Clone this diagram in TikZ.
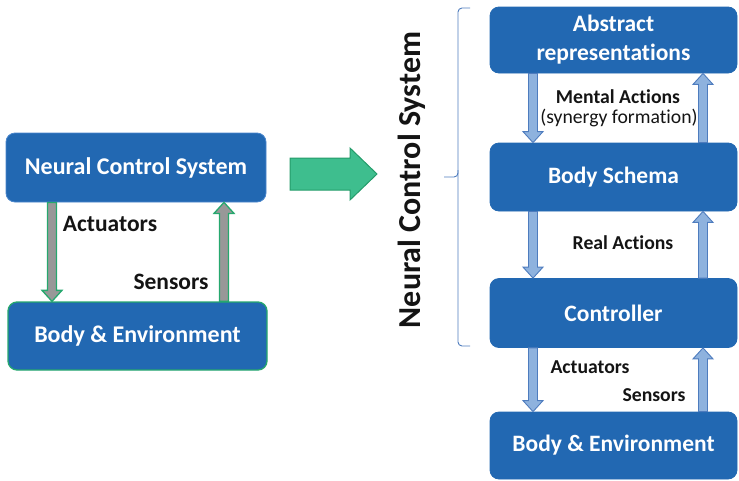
\documentclass[tikz,border=0pt]{standalone}
\usepackage{fontspec}
\setmainfont{Carlito}[Ligatures=NoCommon]
\usetikzlibrary{calc}

\definecolor{boxblue}{RGB}{34,104,178}
\definecolor{boxedge}{RGB}{74,134,204}
\definecolor{leafgreen}{RGB}{38,168,110}
\definecolor{arrowgray}{RGB}{152,152,152}
\definecolor{paleblue}{RGB}{142,178,222}
\definecolor{edgeblue}{RGB}{78,124,190}
\definecolor{bigfill}{RGB}{62,190,142}
\definecolor{bigedge}{RGB}{36,156,106}
\definecolor{inkblack}{RGB}{20,20,20}

% vertical block arrows: #1 style, #2 tail point, #3 tip point
\newcommand\downblock[3]{%
  \draw[#1] let \p1=(#2), \p2=(#3) in
    (\x1-4.5pt,\y1) -- (\x1-4.5pt,\y2+11pt) -- (\x1-10pt,\y2+11pt) -- (\x1,\y2)
    -- (\x1+10pt,\y2+11pt) -- (\x1+4.5pt,\y2+11pt) -- (\x1+4.5pt,\y1) -- cycle;}
\newcommand\upblock[3]{%
  \draw[#1] let \p1=(#2), \p2=(#3) in
    (\x1-4.5pt,\y1) -- (\x1-4.5pt,\y2-11pt) -- (\x1-10pt,\y2-11pt) -- (\x1,\y2)
    -- (\x1+10pt,\y2-11pt) -- (\x1+4.5pt,\y2-11pt) -- (\x1+4.5pt,\y1) -- cycle;}

\begin{document}
\begin{tikzpicture}[x=1pt,y=-1pt,
  box/.style={draw=boxedge, fill=boxblue, rounded corners=9pt, text=white,
    font=\bfseries\fontsize{24}{26}\selectfont, align=center, inner sep=0pt,
    line width=0.8pt},
  greenbox/.style={box, draw=leafgreen, line width=1.3pt},
  rbox/.style={box, draw=boxblue, minimum width=247pt,
    font=\bfseries\fontsize{23.5}{29}\selectfont},
  grayarrow/.style={fill=arrowgray, draw=leafgreen, line width=1.3pt},
  bluearrow/.style={fill=paleblue, draw=edgeblue, line width=0.9pt},
  lbl/.style={text=inkblack, font=\bfseries\fontsize{23.5}{26}\selectfont, inner sep=0pt},
  rlbl/.style={text=inkblack, font=\bfseries\fontsize{19.7}{22}\selectfont, inner sep=0pt},
]
\useasboundingbox (0,0) rectangle (739,480);

% ---- left: simple loop ----
\node[box, minimum width=260pt, minimum height=69pt] (ncs) at (136,167.5) {Neural Control System};
\node[greenbox, minimum width=259pt, minimum height=68pt] (benv) at (137.5,336) {Body \& Environment};

\coordinate (xdown) at (52,0);
\coordinate (xup) at (224,0);
\downblock{grayarrow}{ncs.south -| xdown}{benv.north -| xdown}
\upblock{grayarrow}{benv.north -| xup}{ncs.south -| xup}
\node[lbl] (act) at (110,224) {Actuators};
\node[lbl] (sen) at (171,282) {Sensors};

% ---- transition arrow ----
\coordinate (gtail) at (290,174);
\coordinate (gtip) at (377,174);
\draw[fill=bigfill, draw=bigedge, line width=1pt] let \p1=(gtail), \p2=(gtip) in
  (\x1,\y1+16pt) -- (\x2-27pt,\y1+16pt) -- (\x2-27pt,\y1+26pt) -- (\x2,\y2)
  -- (\x2-27pt,\y1-26pt) -- (\x2-27pt,\y1-16pt) -- (\x1,\y1-16pt) -- cycle;

% ---- right: layered system ----
\node[rbox, minimum height=66pt] (abs) at (613.5,40) {Abstract\\representations};
\node[rbox, minimum height=68pt] (schema) at (613.5,177) {Body Schema};
\node[rbox, minimum height=69pt] (ctrl) at (613.5,313) {Controller};
\node[rbox, minimum height=67pt] (renv) at (613.5,445.5) {Body \& Environment};

\coordinate (rdown) at (533,0);
\coordinate (rup) at (703,0);
\downblock{bluearrow}{abs.south -| rdown}{schema.north -| rdown}
\upblock{bluearrow}{schema.north -| rup}{abs.south -| rup}
\downblock{bluearrow}{schema.south -| rdown}{ctrl.north -| rdown}
\upblock{bluearrow}{ctrl.north -| rup}{schema.south -| rup}
\downblock{bluearrow}{ctrl.south -| rdown}{renv.north -| rdown}
\upblock{bluearrow}{renv.north -| rup}{ctrl.south -| rup}

\node[rlbl] (mental) at (618,97) {Mental Actions};
\node[text=inkblack, font=\fontsize{19.7}{22}\selectfont, inner sep=0pt] (syn) at (619,118) {(synergy formation)};
\node[rlbl] (real) at (623,243) {Real Actions};
\node[rlbl] (ract) at (590,367) {Actuators};
\node[rlbl] (rsen) at (654,395) {Sensors};

% brace grouping the upper three layers
\draw[edgeblue, line width=0.9pt, rounded corners=4pt]
  (470,8) -- (458,8) -- (458,177) -- (444,177);
\draw[edgeblue, line width=0.9pt, rounded corners=4pt]
  (458,170) -- (458,346) -- (470,346);
\node[rotate=90, text=inkblack, font=\bfseries\fontsize{32}{36}\selectfont, inner sep=0pt] (side) at (412,180) {Neural Control System};
\end{tikzpicture}
\end{document}
